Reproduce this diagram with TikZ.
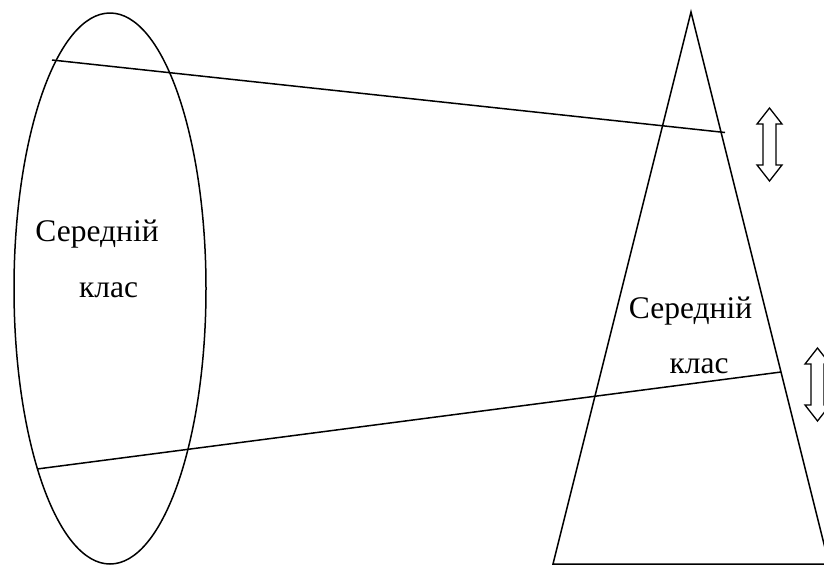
\documentclass[tikz,border=0pt]{standalone}
\usepackage{fontspec}
\setmainfont{Liberation Serif}
\usetikzlibrary{shapes.geometric}
\tikzset{
  shape line/.style={draw=black, line width=1.5pt},
  label text/.style={font=\fontsize{31.5}{36}\selectfont, inner sep=0pt, anchor=base},
  dblarr/.pic={
    \draw[line width=1.3pt, line join=miter, fill=white]
      (0,0) -- (12.5,16) -- (6.5,16) -- (6.5,57) -- (12.5,57) -- (0,73)
      -- (-12.5,57) -- (-6.5,57) -- (-6.5,16) -- (-12.5,16) -- cycle;
  }
}
\begin{document}
\begin{tikzpicture}[x=1pt, y=-1pt]
\useasboundingbox (0,0) rectangle (824,566);
\clip (0,0) rectangle (824,566);
% ellipse
\node[shape line, ellipse, minimum width=192pt, minimum height=551pt, inner sep=0pt] (ell) at (110,288.5) {};
% triangle
\coordinate (apex) at (691,12);
\coordinate (bl) at (553,564);
\coordinate (br) at (829,564);
\draw[shape line, line join=miter] (apex) -- (bl) -- (br) -- cycle;
% connecting lines
\coordinate (t1) at (52,60);
\coordinate (t2) at (725,132.5);
\coordinate (b1) at (37,469);
\coordinate (b2) at (781,372);
\draw[shape line] (t1) -- (t2);
\draw[shape line] (b1) -- (b2);
% labels
\node[label text] (l1) at (97,241) {Середній};
\node[label text] (l2) at (108.5,297) {клас};
\node[label text] (r1) at (690.5,318) {Середній};
\node[label text] (r2) at (699,373) {клас};
% arrows
\pic at (769.5,108) {dblarr};
\pic at (817.5,348) {dblarr};
\end{tikzpicture}
\end{document}
